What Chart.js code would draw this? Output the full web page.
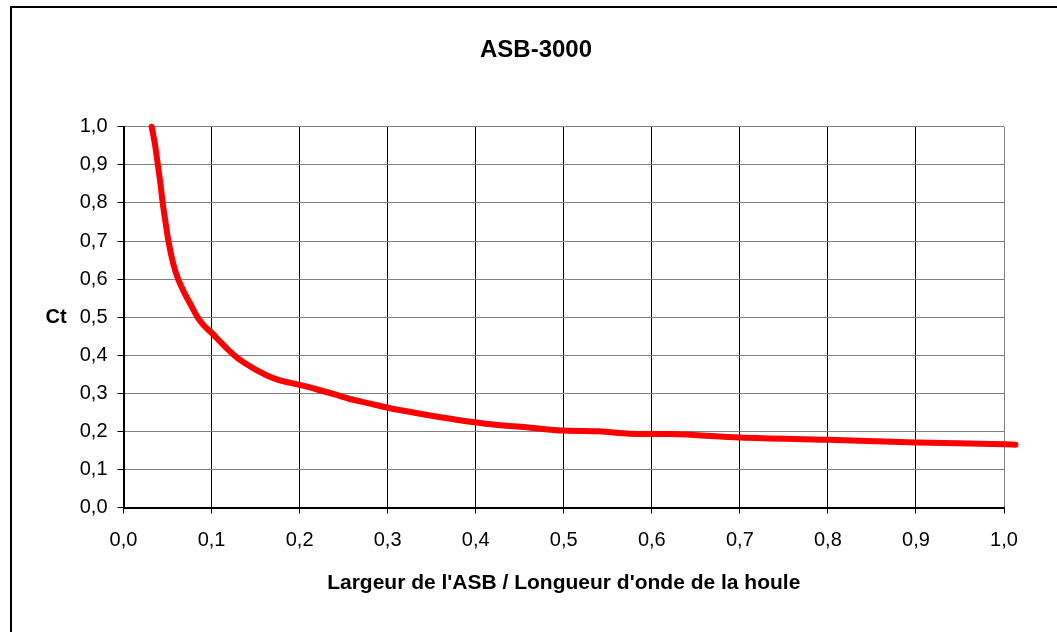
<!DOCTYPE html>
<html lang="fr">
<head>
  <meta charset="UTF-8">
  <title>ASB-3000</title>
  <script src="https://cdn.jsdelivr.net/npm/chart.js"></script>
  <style>
    body {
      margin: 0;
      padding: 0;
      overflow: hidden;
      background: #fff;
    }
    #frame {
      position: absolute;
      left: 10px;
      top: 6px;
      width: 1100px;
      height: 700px;
      border: 2px solid #000;
    }
    #wrap {
      position: absolute;
      left: 0;
      top: 0;
      width: 1057px;
      height: 632px;
    }
  </style>
</head>
<body>

  <div id="frame"></div>
  <div id="wrap">
    <canvas id="ctChart" width="1057" height="632"></canvas>
  </div>

  <script>
    // Largeur ASB / longueur d'onde (x) et coefficient Ct (y)
    const ratios = [0.032, 0.036, 0.039, 0.042, 0.0445, 0.048, 0.051, 0.056, 0.062, 0.070,
                    0.077, 0.084, 0.092, 0.100, 0.110, 0.119, 0.130, 0.140, 0.150, 0.163,
                    0.175, 0.188, 0.200, 0.220, 0.240, 0.257, 0.280, 0.300, 0.340, 0.380,
                    0.420, 0.460, 0.500, 0.540, 0.575, 0.620, 0.700, 0.800, 0.900, 1.000,
                    1.013];
    const ctValues = [1.00, 0.95, 0.90, 0.85, 0.80, 0.745, 0.70, 0.645, 0.60, 0.56,
                      0.53, 0.50, 0.476, 0.459, 0.435, 0.414, 0.392, 0.376, 0.362, 0.347,
                      0.336, 0.328, 0.322, 0.31, 0.297, 0.285, 0.273, 0.262, 0.245, 0.23,
                      0.218, 0.21, 0.202, 0.200, 0.194, 0.193, 0.184, 0.178, 0.171, 0.166,
                      0.165];
    const tickValues = [0, 0.1, 0.2, 0.3, 0.4, 0.5, 0.6, 0.7, 0.8, 0.9, 1.0];

    const chartTitle = 'ASB-3000';
    const xTitle = "Largeur de l'ASB / Longueur d'onde de la houle";
    const yTitle = 'Ct';

    const points = ratios.map((r, i) => ({ x: r, y: ctValues[i] }));

    Chart.defaults.font.family = '"Liberation Sans", Arial, sans-serif';
    Chart.defaults.color = '#000';

    const fmt = v => (Math.round(v * 10) / 10).toFixed(1).replace('.', ',');

    // "Ct" is drawn horizontally left of the y axis, like the original
    const yLabelPlugin = {
      id: 'yLabel',
      afterDraw(chart) {
        const ctx = chart.ctx;
        const area = chart.chartArea;
        ctx.save();
        ctx.font = 'bold 20px "Liberation Sans", Arial, sans-serif';
        ctx.fillStyle = '#000';
        ctx.textAlign = 'center';
        ctx.textBaseline = 'middle';
        ctx.fillText(yTitle, 56, (area.top + area.bottom) / 2);
        ctx.restore();
      }
    };

    const ctx = document.getElementById('ctChart').getContext('2d');
    const chart = new Chart(ctx, {
      type: 'line',
      data: {
        datasets: [{
          data: points,
          borderColor: '#ff0000',
          borderWidth: 6,
          borderCapStyle: 'round',
          borderJoinStyle: 'round',
          pointRadius: 0,
          cubicInterpolationMode: 'monotone',
          clip: false,
          fill: false
        }]
      },
      options: {
        responsive: false,
        animation: false,
        layout: {
          padding: { left: 68, right: 53, top: 0, bottom: 0 }
        },
        plugins: {
          legend: { display: false },
          tooltip: { enabled: false },
          title: {
            display: true,
            text: chartTitle,
            font: { size: 24, weight: 'bold' },
            padding: { top: 36, bottom: 62 }
          }
        },
        scales: {
          x: {
            type: 'linear',
            // bounds set after data limits so the curve may run past 1,0 like the original
            afterDataLimits: scale => { scale.min = 0; scale.max = 1; },
            afterBuildTicks: scale => {
              scale.ticks = tickValues.map(v => ({ value: v }));
            },
            afterFit: scale => { scale.height = 124.5; },
            ticks: {
              callback: v => fmt(v),
              font: { size: 20 },
              padding: 15,
              maxRotation: 0
            },
            grid: {
              color: c => (c.tick && c.tick.value === 1) ? '#808080' : '#000',
              tickColor: '#000',
              tickLength: 6,
              lineWidth: 1
            },
            border: { color: '#000', width: 2 },
            title: {
              display: true,
              text: xTitle,
              font: { size: 21, weight: 'bold' },
              padding: { top: 0, bottom: 36 }
            }
          },
          y: {
            min: 0,
            max: 1,
            afterBuildTicks: scale => {
              scale.ticks = tickValues.map(v => ({ value: v }));
            },
            afterFit: scale => { scale.width = 55.5; },
            ticks: {
              callback: v => fmt(v),
              font: { size: 20 },
              padding: 10
            },
            grid: {
              color: '#808080',
              tickColor: '#000',
              tickLength: 6,
              lineWidth: 1
            },
            border: { color: '#000', width: 2 }
          }
        }
      },
      plugins: [yLabelPlugin]
    });
  </script>

</body>
</html>
